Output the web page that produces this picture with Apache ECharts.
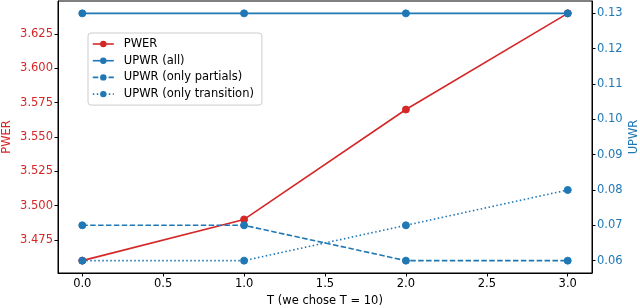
<!DOCTYPE html>
<html><head><meta charset="utf-8">
<script src="https://cdn.jsdelivr.net/npm/echarts@6/dist/echarts.min.js"></script>
<style>html,body{margin:0;padding:0;background:#fff}#c{width:640px;height:308px}</style>
</head><body><div id="c"></div>
<script>
const tValues = [0, 1, 2, 3];
const pwer = [3.46, 3.49, 3.57, 3.64];
const upwrAll = [0.13, 0.13, 0.13, 0.13];
const upwrPartials = [0.07, 0.07, 0.06, 0.06];
const upwrTransition = [0.06, 0.06, 0.07, 0.08];
const xTicks = [0, 0.5, 1, 1.5, 2, 2.5, 3];
const leftTicks = [3.475, 3.5, 3.525, 3.55, 3.575, 3.6, 3.625];
const rightTicks = [0.06, 0.07, 0.08, 0.09, 0.10, 0.11, 0.12, 0.13];

const RED = '#d62728', BLUE = '#1f77b4';
const FONT = 'DejaVu Sans';
const DASH = [5.5, 2.4], DOT = [1.5, 2.5];
const pairs = v => tValues.map((t, i) => [t, v[i]]);

const chart = echarts.init(document.getElementById('c'), null, {renderer: 'canvas'});
const mk = (name, data, color, yIdx, type) => ({
  name, type: 'line', data: pairs(data), yAxisIndex: yIdx,
  symbol: 'circle', symbolSize: 7,
  lineStyle: {color, width: 1.6, type},
  itemStyle: {color, borderColor: color, borderWidth: 1},
  emphasis: {disabled: true}, animation: false
});
const legItem = (name, color, type) => ({
  name,
  itemStyle: {color, borderWidth: 0},
  lineStyle: {color, width: 1.6, type}
});
chart.setOption({
  animation: false,
  grid: {left: 58, right: 48, top: 1, bottom: 35, outerBoundsMode: 'none', containLabel: false,
         show: true, borderColor: '#000', borderWidth: 1, backgroundColor: 'transparent'},
  legend: {
    orient: 'vertical', left: 88, top: 33, padding: [5, 8, 5, 4], itemGap: 4.7,
    itemWidth: 21, itemHeight: 8,
    borderColor: '#ccc', borderWidth: 1, borderRadius: 3, backgroundColor: '#fff',
    textStyle: {fontFamily: FONT, fontSize: 11.5, color: '#000', padding: [0, 0, 0, 5], lineHeight: 12},
    data: [legItem('PWER', RED, 'solid'), legItem('UPWR (all)', BLUE, 'solid'),
           legItem('UPWR (only partials)', BLUE, DASH), legItem('UPWR (only transition)', BLUE, DOT)]
  },
  xAxis: {
    type: 'value', min: -0.15, max: 3.15,
    name: 'T (we chose T = 10)', nameLocation: 'middle', nameGap: 22, nameMoveOverlap: false,
    nameTextStyle: {fontFamily: FONT, fontSize: 11.5, color: '#000'},
    axisLine: {show: true, onZero: false, lineStyle: {color: '#000', width: 1}},
    axisTick: {show: true, length: 3.5, lineStyle: {color: '#000'}, customValues: xTicks},
    axisLabel: {fontFamily: FONT, fontSize: 11.5, color: '#000', margin: 5, customValues: xTicks, formatter: v => v.toFixed(1)},
    splitLine: {show: false}
  },
  yAxis: [{
    type: 'value', min: 3.451, max: 3.649, position: 'left',
    name: 'PWER', nameLocation: 'middle', nameGap: 45, nameMoveOverlap: false,
    nameTextStyle: {fontFamily: FONT, fontSize: 11.5, color: RED},
    axisLine: {show: true, onZero: false, lineStyle: {color: '#000', width: 1}},
    axisTick: {show: true, length: 3.5, lineStyle: {color: '#000'}, customValues: leftTicks},
    axisLabel: {fontFamily: FONT, fontSize: 11.5, color: RED, margin: 5, customValues: leftTicks, formatter: v => v.toFixed(3)},
    splitLine: {show: false}
  }, {
    type: 'value', min: 0.0565, max: 0.1335, position: 'right',
    name: 'UPWR', nameLocation: 'middle', nameGap: 36, nameMoveOverlap: false,
    nameTextStyle: {fontFamily: FONT, fontSize: 11.5, color: BLUE},
    axisLine: {show: true, onZero: false, lineStyle: {color: '#000', width: 1}},
    axisTick: {show: true, length: 3.5, lineStyle: {color: '#000'}, customValues: rightTicks},
    axisLabel: {fontFamily: FONT, fontSize: 11.5, color: BLUE, margin: 5, customValues: rightTicks, formatter: v => v.toFixed(2)},
    splitLine: {show: false}
  }],
  series: [
    mk('PWER', pwer, RED, 0, 'solid'),
    mk('UPWR (all)', upwrAll, BLUE, 1, 'solid'),
    mk('UPWR (only partials)', upwrPartials, BLUE, 1, DASH),
    mk('UPWR (only transition)', upwrTransition, BLUE, 1, DOT)
  ]
});
</script></body></html>
